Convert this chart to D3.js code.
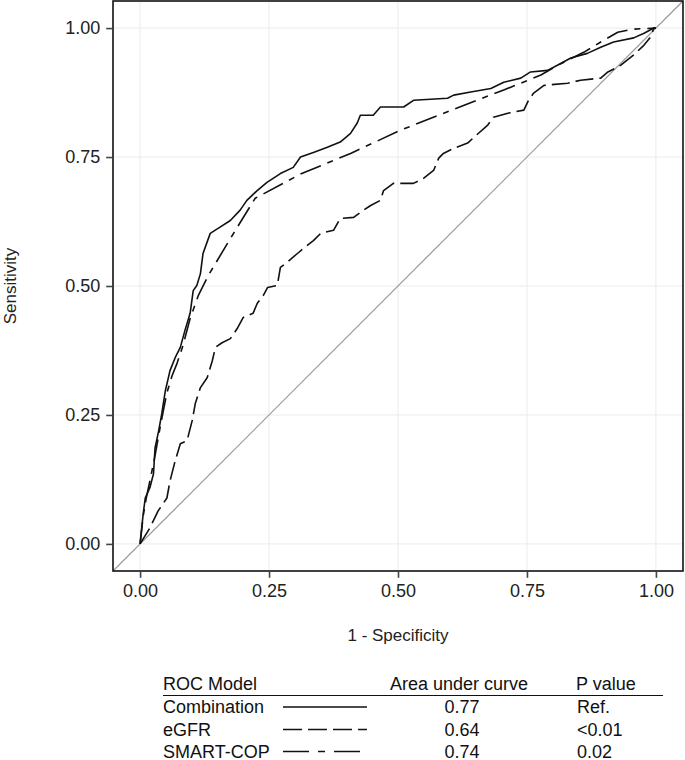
<!DOCTYPE html>
<html>
<head>
<meta charset="utf-8">
<script src="https://cdn.jsdelivr.net/npm/d3@7/dist/d3.min.js"></script>
<style>
  html, body { margin: 0; padding: 0; background: #fff; }
  svg { display: block; font-family: "Liberation Sans", Arial, sans-serif; }
</style>
</head>
<body>
<svg id="chart" width="685" height="760"></svg>
<script>
// ---- Data (1 - Specificity, Sensitivity) ----
const combinationFPR = [0,.006,.010,.019,.026,.029,.036,.042,.049,.058,.068,.078,.087,.097,.103,.110,.117,.122,.136,.155,.175,.194,.207,.227,.246,.272,.297,.311,.336,.363,.388,.408,.421,.427,.452,.466,.511,.530,.596,.608,.641,.680,.705,.738,.757,.790,.809,.835,.867,.893,.918,.957,.977,.996,1];
const combinationTPR = [0,.058,.089,.109,.136,.186,.219,.252,.297,.336,.361,.381,.414,.447,.491,.501,.524,.563,.602,.614,.627,.647,.666,.685,.701,.718,.730,.750,.759,.769,.779,.796,.816,.831,.831,.847,.847,.860,.864,.870,.876,.883,.895,.903,.915,.918,.928,.942,.951,.963,.973,.981,.990,1,1];

const egfrFPR = [0,.019,.035,.052,.058,.068,.078,.091,.101,.107,.117,.130,.140,.146,.159,.175,.188,.200,.219,.227,.239,.247,.266,.272,.285,.305,.317,.336,.350,.375,.388,.414,.433,.447,.466,.472,.491,.530,.550,.569,.579,.588,.608,.635,.647,.674,.685,.713,.744,.753,.763,.783,.829,.854,.893,.907,.932,.957,.977,.990,.996,1];
const egfrTPR = [0,.031,.064,.089,.122,.161,.194,.200,.239,.272,.303,.322,.355,.381,.390,.398,.417,.439,.447,.466,.482,.497,.501,.536,.546,.563,.573,.588,.602,.608,.631,.633,.647,.656,.666,.685,.699,.699,.709,.724,.748,.757,.767,.777,.788,.812,.827,.835,.841,.860,.874,.889,.893,.899,.903,.915,.928,.948,.967,.983,1,1];

const smartcopFPR = [0,.006,.012,.019,.029,.037,.045,.052,.062,.072,.083,.097,.113,.132,.175,.223,.311,.408,.505,.627,.705,.777,.810,.860,.893,.926,.957,1];
const smartcopTPR = [0,.054,.089,.122,.171,.216,.258,.293,.326,.351,.384,.437,.482,.520,.592,.670,.717,.757,.802,.850,.880,.909,.928,.953,.973,.992,.998,1];

const tickValues = [0, 0.25, 0.5, 0.75, 1];
const tickLabels = ["0.00", "0.25", "0.50", "0.75", "1.00"];

const modelNames = ["Combination", "eGFR", "SMART-COP"];
const aucValues = ["0.77", "0.64", "0.74"];
const pValues = ["Ref.", "<0.01", "0.02"];
const dashStyles = ["none", "18,6", "22,7,6,7"];

// ---- Layout ----
const svg = d3.select("#chart");
const expand = 0.0525;
const x = d3.scaleLinear().domain([-expand, 1 + expand]).range([113, 683]);
const y = d3.scaleLinear().domain([-expand, 1 + expand]).range([571, 1]);

// grid
const grid = svg.append("g");
grid.selectAll("line.v").data(tickValues).join("line")
  .attr("class", "v")
  .attr("x1", d => x(d)).attr("x2", d => x(d))
  .attr("y1", y.range()[0]).attr("y2", y.range()[1])
  .attr("stroke", "#ebebeb").attr("stroke-width", 1);
grid.selectAll("line.h").data(tickValues).join("line")
  .attr("class", "h")
  .attr("y1", d => y(d)).attr("y2", d => y(d))
  .attr("x1", x.range()[0]).attr("x2", x.range()[1])
  .attr("stroke", "#ebebeb").attr("stroke-width", 1);

// reference diagonal
svg.append("line")
  .attr("x1", x(-expand)).attr("y1", y(-expand))
  .attr("x2", x(1 + expand)).attr("y2", y(1 + expand))
  .attr("stroke", "#999").attr("stroke-width", 1.2);

// curves
const series = [
  { fpr: combinationFPR, tpr: combinationTPR, dash: dashStyles[0] },
  { fpr: egfrFPR, tpr: egfrTPR, dash: dashStyles[1] },
  { fpr: smartcopFPR, tpr: smartcopTPR, dash: dashStyles[2] }
];
const line = d3.line().x(d => x(d[0])).y(d => y(d[1]));
series.forEach(s => {
  const pts = s.fpr.map((f, i) => [f, s.tpr[i]]);
  svg.append("path")
    .datum(pts)
    .attr("d", line)
    .attr("fill", "none")
    .attr("stroke", "#111")
    .attr("stroke-width", 1.6)
    .attr("stroke-linejoin", "round")
    .attr("stroke-dasharray", s.dash);
});

// panel border
svg.append("rect")
  .attr("x", x.range()[0]).attr("y", y.range()[1])
  .attr("width", x.range()[1] - x.range()[0])
  .attr("height", y.range()[0] - y.range()[1])
  .attr("fill", "none").attr("stroke", "#111").attr("stroke-width", 1.6);

// axes
const xAxis = d3.axisBottom(x).tickValues(tickValues).tickFormat((d, i) => tickLabels[i])
  .tickSizeInner(6).tickSizeOuter(0).tickPadding(6);
const gx = svg.append("g").attr("transform", `translate(0,${y.range()[0] + 0.8})`).call(xAxis);
const yAxis = d3.axisLeft(y).tickValues(tickValues).tickFormat((d, i) => tickLabels[i])
  .tickSizeInner(6).tickSizeOuter(0).tickPadding(6);
const gy = svg.append("g").attr("transform", `translate(${x.range()[0] - 0.8},0)`).call(yAxis);
[gx, gy].forEach(g => {
  g.select(".domain").remove();
  g.selectAll(".tick line").attr("stroke", "#444").attr("stroke-width", 1.6);
  g.selectAll(".tick text").attr("fill", "#222")
    .style("font-size", "18px").style("font-family", "'Liberation Sans', Arial, sans-serif");
});

// axis titles
svg.append("text")
  .attr("x", x(0.5)).attr("y", 641)
  .attr("text-anchor", "middle").attr("fill", "#222")
  .style("font-size", "17px")
  .text("1 - Specificity");
svg.append("text")
  .attr("transform", `translate(16, ${y(0.5)}) rotate(-90)`)
  .attr("text-anchor", "middle").attr("fill", "#222")
  .style("font-size", "17px")
  .text("Sensitivity");

// legend table
const leg = svg.append("g").style("font-size", "18px").attr("fill", "#111");
leg.append("text").attr("x", 163).attr("y", 690).text("ROC Model");
leg.append("text").attr("x", 390).attr("y", 690).text("Area under curve");
leg.append("text").attr("x", 576).attr("y", 690).text("P value");
leg.append("line").attr("x1", 163).attr("x2", 663).attr("y1", 695.5).attr("y2", 695.5)
  .attr("stroke", "#111").attr("stroke-width", 1.2);

const rowY = [707, 729.5, 751.5];
modelNames.forEach((name, i) => {
  leg.append("text").attr("x", 163).attr("y", rowY[i] + 6).text(name);
  leg.append("line")
    .attr("x1", 283).attr("x2", 367)
    .attr("y1", rowY[i]).attr("y2", rowY[i])
    .attr("stroke", "#111").attr("stroke-width", 1.4)
    .attr("stroke-dasharray", i === 1 ? "19,6" : (i === 2 ? "26,9,7,9" : "none"));
  leg.append("text").attr("x", 462).attr("y", rowY[i] + 6).attr("text-anchor", "middle").text(aucValues[i]);
  leg.append("text").attr("x", 577).attr("y", rowY[i] + 6).text(pValues[i]);
});
</script>
</body>
</html>
